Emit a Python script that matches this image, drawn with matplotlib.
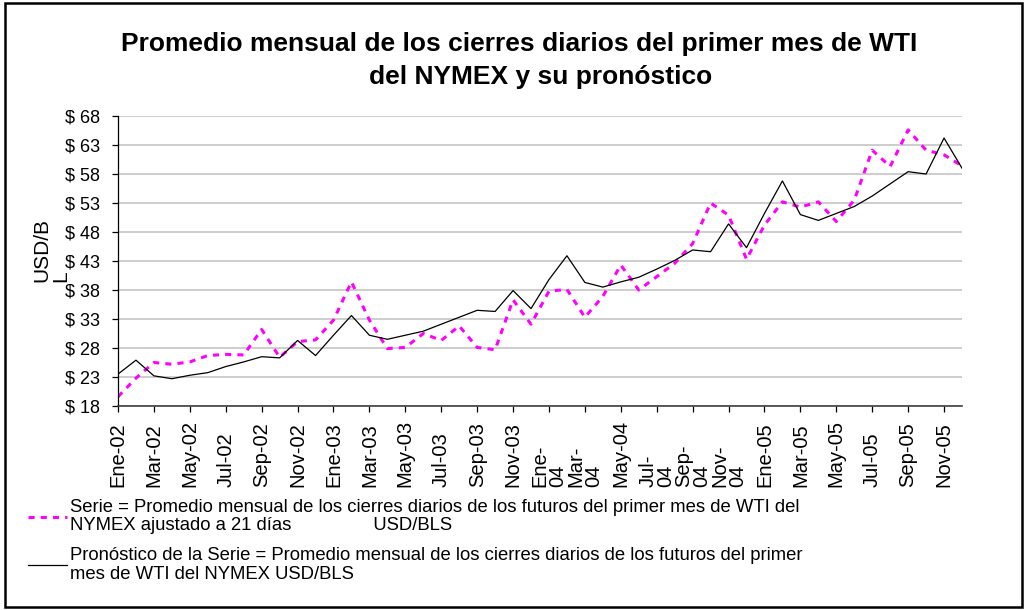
import matplotlib
matplotlib.use('Agg')
import matplotlib.pyplot as plt
from matplotlib.patches import Rectangle
import numpy as np

plt.rcParams['font.family'] = ['Liberation Sans', 'DejaVu Sans']

# promedio mensual ajustado a 21 dias (Ene-02 .. Dic-05)
serie = [19.6, 22.8, 25.5, 25.2, 25.6, 26.7, 26.9, 26.8, 31.2, 26.4, 29.1, 29.4,
         32.8, 39.4, 32.8, 27.9, 28.1, 30.5, 29.3, 31.8, 28.1, 27.7, 36.3, 32.1,
         37.8, 38.1, 33.3, 36.9, 42.3, 38.0, 40.3, 42.6, 46.0, 53.0, 50.9, 43.3,
         49.2, 53.2, 52.3, 53.2, 49.8, 53.5, 62.1, 59.3, 65.6, 62.1, 61.3, 59.4]
# pronostico de la serie
pronostico = [23.5, 25.9, 23.2, 22.7, 23.3, 23.75, 24.8, 25.6, 26.5, 26.3, 29.3, 26.7,
              30.2, 33.6, 30.2, 29.5, 30.2, 30.9, 32.1, 33.3, 34.5, 34.3, 37.9, 34.8,
              39.8, 43.9, 39.3, 38.5, 39.4, 40.2, 41.6, 43.1, 44.9, 44.6, 49.4, 45.3,
              51.2, 56.8, 51.0, 50.0, 51.2, 52.4, 54.2, 56.3, 58.4, 58.0, 64.2, 59.0]

etiquetas = ['Ene-02', 'Mar-02', 'May-02', 'Jul-02', 'Sep-02', 'Nov-02',
             'Ene-03', 'Mar-03', 'May-03', 'Jul-03', 'Sep-03', 'Nov-03',
             'Ene-\n04', 'Mar-\n04', 'May-04', 'Jul-\n04', 'Sep-\n04', 'Nov-\n04',
             'Ene-05', 'Mar-05', 'May-05', 'Jul-05', 'Sep-05', 'Nov-05']
yticks = np.arange(18, 69, 5)

lbl_serie = ('Serie = Promedio mensual de los cierres diarios de los futuros del primer mes de WTI del\n'
             'NYMEX ajustado a 21 días                USD/BLS')
lbl_pron = ('Pronóstico de la Serie = Promedio mensual de los cierres diarios de los futuros del primer\n'
            'mes de WTI del NYMEX USD/BLS')

W, H = 1026, 610
fig = plt.figure(figsize=(W / 100, H / 100), dpi=100)
ax = fig.add_axes([118 / W, 1 - 406 / H, (962 - 118) / W, (406 - 116) / H])

x = np.arange(len(serie))
ax.plot(x, serie, color='#ff00ff', lw=2.2, linestyle=(0, (2, 2)), label=lbl_serie)
ax.plot(x, pronostico, color='black', lw=0.9, label=lbl_pron)

ax.set_xlim(0, len(serie) - 1)
ax.set_ylim(18, 68)
ax.set_yticks(yticks)
ax.set_yticklabels(['$ %d' % v for v in yticks], fontsize=13)
ax.yaxis.grid(True, color='#c0c0c0', lw=1.1)
ax.set_axisbelow(True)
for s in ['top', 'right']:
    ax.spines[s].set_visible(False)
ax.spines['left'].set_linewidth(0.9)
ax.spines['bottom'].set_linewidth(1.2)
ax.spines['bottom'].set_color('#404040')

ax.set_xticks(x[::2])
ax.set_xticklabels(etiquetas, fontsize=14.5)
ax.tick_params(axis='x', direction='out', length=4, width=0.9, pad=54.5)
ax.tick_params(axis='y', direction='out', length=4, width=0.9, pad=9)
for t in ax.get_xticklabels():
    t.set_rotation(90)
    t.set_rotation_mode('anchor')
    t.set_ha('left')
    t.set_va('center')
    t.set_multialignment('left')
    t.set_linespacing(0.9)

ax.set_ylabel('USD/B\nL', fontsize=15, multialignment='left', linespacing=0.95)
ax.yaxis.set_label_coords((70 - 118) / 844, (406 - 250) / 290)

fig.text(519.5 / W, 1 - 44 / H, 'Promedio mensual de los cierres diarios del primer mes de WTI',
         ha='center', va='center', fontsize=19, fontweight='bold')
fig.text(541 / W, 1 - 77 / H, 'del NYMEX y su pronóstico',
         ha='center', va='center', fontsize=19, fontweight='bold')

leg = fig.legend(loc='upper left', bbox_to_anchor=(28 / W, 1 - 499 / H), frameon=False,
                 fontsize=13.3, handlelength=2.1, handletextpad=0.2, labelspacing=0.7,
                 borderaxespad=0, borderpad=0)
for t in leg.get_texts():
    t.set_linespacing(1.1)

fig.patches.append(Rectangle((5 / W, 3 / H), 1 - 9 / W, 1 - 6 / H, transform=fig.transFigure,
                             fill=False, ec='black', lw=1.8))

fig.savefig('out.png', dpi=100)
